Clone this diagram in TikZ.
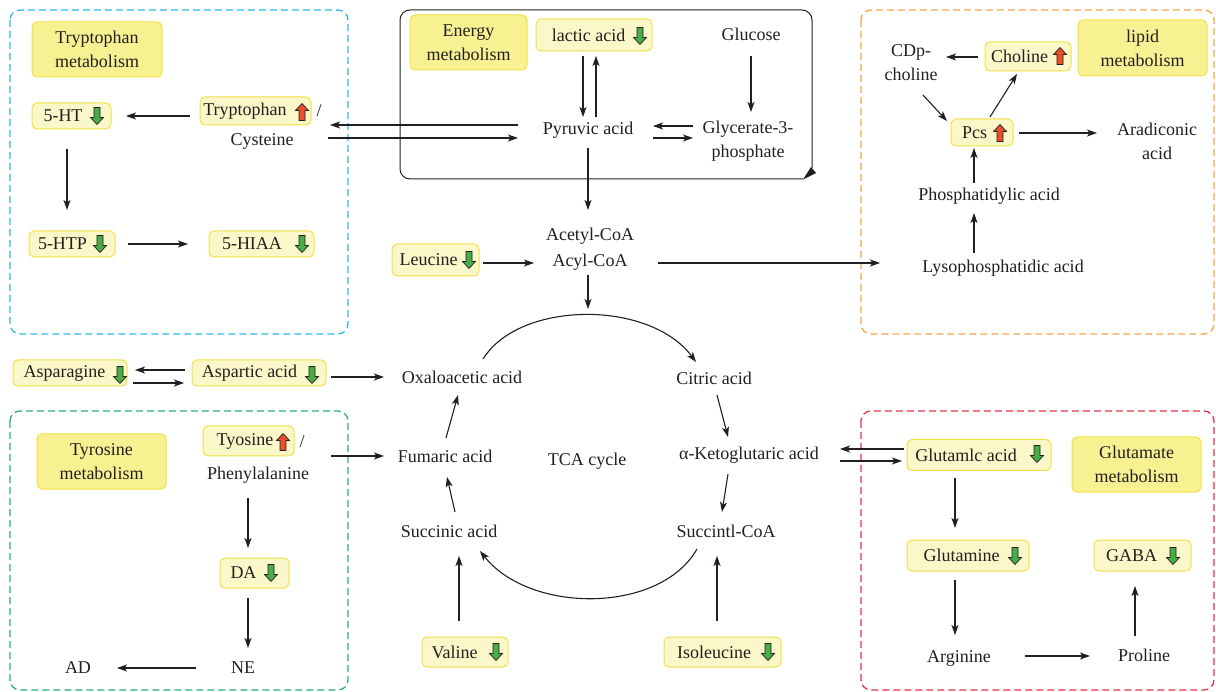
\documentclass[tikz,border=0pt]{standalone}
\usepackage{fontspec}
\setmainfont{Liberation Serif}
\usetikzlibrary{arrows.meta,calc}
\definecolor{ylab}{RGB}{247,241,145}
\definecolor{ylite}{RGB}{250,247,200}
\definecolor{ybd}{RGB}{242,224,70}
\definecolor{agreen}{RGB}{72,172,72}
\definecolor{ared}{RGB}{232,80,42}
\definecolor{ccyan}{RGB}{45,185,230}
\definecolor{corange}{RGB}{245,165,70}
\definecolor{cgreen}{RGB}{40,175,120}
\definecolor{cred}{RGB}{230,50,70}
\definecolor{ink}{RGB}{35,31,32}
\tikzset{
  lbl/.style={draw=ybd,fill=ylab,rounded corners=5pt,line width=1pt,align=center,inner sep=0pt,text=ink},
  mbox/.style={draw=ybd,fill=ylite,rounded corners=5pt,line width=1pt,align=center,inner sep=0pt,text=ink},
  txt/.style={align=center,inner sep=0pt,text=ink},
  arr/.style={-{Stealth[length=10pt,width=7pt,inset=2.5pt]},line width=1.1pt,draw=ink},
  dbox/.style={dash pattern=on 7pt off 4pt,line width=1.3pt,rounded corners=10pt},
  dnicon/.pic={\draw[ink,fill=agreen,line width=0.7pt,line join=miter] (0,8.5) -- (6.5,1.5) -- (3,1.5) -- (3,-8.5) -- (-3,-8.5) -- (-3,1.5) -- (-6.5,1.5) -- cycle;},
  upicon/.pic={\draw[ink,fill=ared,line width=0.7pt,line join=miter] (0,-8.5) -- (6.5,-1.5) -- (3,-1.5) -- (3,8.5) -- (-3,8.5) -- (-3,-1.5) -- (-6.5,-1.5) -- cycle;},
}
\begin{document}
\begin{tikzpicture}[x=1pt,y=-1pt,font=\fontsize{18}{24}\selectfont]
\useasboundingbox (0,0) rectangle (1216,692);
% dashed group boxes
\draw[dbox,ccyan] (10,10) rectangle (348,334);
\draw[dbox,corange] (861,10) rectangle (1214,334);
\draw[dbox,cgreen] (10,411) rectangle (348,690);
\draw[dbox,cred] (861,411) rectangle (1214,690);
% energy box
\draw[line width=1pt,ink,rounded corners=10pt] (812,168) -- (812,10) -- (400,10) -- (400,179) -- (803,179);
\fill[ink] (803,179.5) -- (811,167) -- (816,173) -- cycle;

% labels
\node[lbl,minimum width=130pt,minimum height=55pt] (trylab) at (97,49.5) {Tryptophan\\metabolism};
\node[lbl,minimum width=117pt,minimum height=55pt] (enlab) at (468.5,42.5) {Energy\\metabolism};
\node[lbl,minimum width=129pt,minimum height=56pt] (liplab) at (1142.5,48) {lipid\\metabolism};
\node[lbl,minimum width=129pt,minimum height=55pt] (tyrlab) at (101.5,461.5) {Tyrosine\\metabolism};
\node[lbl,minimum width=129pt,minimum height=55pt] (glulab) at (1136.5,464.5) {Glutamate\\metabolism};

% marked boxes
\node[mbox,minimum width=79pt,minimum height=26pt] (ht) at (71.5,116) {5-HT\hspace*{17pt}};
\node[mbox,minimum width=111pt,minimum height=28pt] (trp) at (255.5,111) {Tryptophan\hspace*{21pt}};
\node[mbox,minimum width=86pt,minimum height=26pt] (htp) at (72,244) {5-HTP\hspace*{19pt}};
\node[mbox,minimum width=105pt,minimum height=26pt] (hiaa) at (261.5,244) {5-HIAA\hspace*{19pt}};
\node[mbox,minimum width=116pt,minimum height=32pt] (lac) at (594,35) {lactic acid\hspace*{11pt}};
\node[mbox,minimum width=86pt,minimum height=29pt] (chol) at (1028,56.5) {Choline\hspace*{17pt}};
\node[mbox,minimum width=62pt,minimum height=27pt] (pcs) at (982,132.5) {Pcs\hspace*{15pt}};
\node[mbox,minimum width=87pt,minimum height=32pt] (leu) at (435.5,260) {Leucine\hspace*{14pt}};
\node[mbox,minimum width=114pt,minimum height=26pt] (asn) at (70,373) {Asparagine\hspace*{11pt}};
\node[mbox,minimum width=134pt,minimum height=26pt] (asp) at (259,373) {Aspartic acid\hspace*{19pt}};
\node[mbox,minimum width=91pt,minimum height=30pt] (tyo) at (248.5,441) {Tyosine\hspace*{7pt}};
\node[mbox,minimum width=69pt,minimum height=30pt] (da) at (254.5,573) {DA\hspace*{22pt}};
\node[mbox,minimum width=144pt,minimum height=31pt] (glu) at (979,455) {Glutamlc acid\hspace*{26pt}};
\node[mbox,minimum width=122pt,minimum height=31pt] (gln) at (968,555.5) {Glutamine\hspace*{13pt}};
\node[mbox,minimum width=97pt,minimum height=31pt] (gaba) at (1142.5,555.5) {GABA\hspace*{22pt}};
\node[mbox,minimum width=86pt,minimum height=30pt] (val) at (465,652) {Valine\hspace*{21pt}};
\node[mbox,minimum width=117pt,minimum height=30pt] (ile) at (722.5,652) {Isoleucine\hspace*{17pt}};

% up / down markers
\pic (i1) at (97,116) {dnicon};
\pic (i2) at (302,112) {upicon};
\pic (i3) at (100,244) {dnicon};
\pic (i4) at (302,244) {dnicon};
\pic (i5) at (640,36) {dnicon};
\pic (i6) at (1060,56) {upicon};
\pic (i7) at (1000,133) {upicon};
\pic (i8) at (469,260) {dnicon};
\pic (i9) at (120,375) {dnicon};
\pic (i10) at (312,375) {dnicon};
\pic (i11) at (283,442) {upicon};
\pic (i12) at (271,573) {dnicon};
\pic (i13) at (1037,454) {dnicon};
\pic (i14) at (1015,556) {dnicon};
\pic (i15) at (1173,556) {dnicon};
\pic (i16) at (496,652) {dnicon};
\pic (i17) at (768,652) {dnicon};

% plain texts
\node[txt] (sl1) at (319,111) {/};
\node[txt] (cys) at (262,141) {Cysteine};
\node[txt] (glc) at (751,34) {Glucose};
\node[txt] (pyr) at (588,130) {Pyruvic acid};
\node[txt] (g3p) at (748,141) {Glycerate-3-\\phosphate};
\node[txt] (acet) at (590,236) {Acetyl-CoA};
\node[txt] (acyl) at (590,262) {Acyl-CoA};
\node[txt] (cdp) at (911,63) {CDp-\\choline};
\node[txt] (arad) at (1157,141) {Aradiconic\\acid};
\node[txt] (pa) at (989,196) {Phosphatidylic acid};
\node[txt] (lpa) at (1003,268) {Lysophosphatidic acid};
\node[txt] (oaa) at (462,377) {Oxaloacetic acid};
\node[txt] (cit) at (714,378) {Citric acid};
\node[txt] (akg) at (749,455) {α-Ketoglutaric acid};
\node[txt] (sca) at (726,531) {Succintl-CoA};
\node[txt] (suc) at (449,531) {Succinic acid};
\node[txt] (fum) at (445,456) {Fumaric acid};
\node[txt] (tca) at (587,461) {TCA cycle};
\node[txt] (sl2) at (302,442) {/};
\node[txt] (phe) at (258,475) {Phenylalanine};
\node[txt] (ne) at (243,668) {NE};
\node[txt] (ad) at (78,668) {AD};
\node[txt] (arg) at (959,658) {Arginine};
\node[txt] (pro) at (1144,655) {Proline};
\coordinate (arctop) at (588,309);

% connectors
\draw[arr] ($(trp)+(-65.5,5)$) -- ($(ht)+(54.5,0)$);
\draw[arr] ($(ht)+(-4.5,33)$) -- ($(htp)+(-5,-34)$);
\draw[arr] ($(htp)+(56,0)$) -- ($(hiaa)+(-73.5,0)$);
\draw[arr] ($(pyr)+(-70,-5)$) -- ($(cys)+(68,-16)$);
\draw[arr] ($(cys)+(66,-3)$) -- ($(pyr)+(-70,8)$);
\draw[arr] ($(lac)+(-11,21)$) -- ($(pyr)+(-5,-13)$);
\draw[arr] ($(pyr)+(8,-13)$) -- ($(lac)+(2,21)$);
\draw[arr] ($(glc)+(0,22)$) -- ($(g3p)+(3,-29)$);
\draw[arr] ($(g3p)+(-55,-15)$) -- ($(pyr)+(65,-4)$);
\draw[arr] ($(pyr)+(65,8)$) -- ($(g3p)+(-55,-3)$);
\draw[arr] ($(pyr)+(0,18)$) -- ($(acet)+(-2,-26)$);
\draw[arr] ($(leu)+(47.5,3)$) -- ($(acyl)+(-56,1)$);
\draw[arr] ($(acyl)+(68,1)$) -- ($(lpa)+(-123,-5)$);
\draw[arr] ($(acyl)+(-2,13)$) -- (arctop);
\draw[arr] ($(chol)+(-50,0.5)$) -- ($(cdp)+(35,-6)$);
\draw[arr] ($(cdp)+(12,32)$) -- ($(pcs)+(-35,-11.5)$);
\draw[arr] ($(pcs)+(8,-15.5)$) -- ($(chol)+(-11,17.5)$);
\draw[arr] ($(pcs)+(37,0.5)$) -- ($(arad)+(-60,-8)$);
\draw[arr] ($(pa)+(-15,-13)$) -- ($(pcs)+(-8,15.5)$);
\draw[arr] ($(lpa)+(-29,-15)$) -- ($(pa)+(-15,17)$);
% TCA cycle
\draw[arr] ($(oaa)+(21,-18)$) .. controls (520,300) and (650,300) .. ($(cit)+(-18,-16)$);
\draw[arr] ($(cit)+(3,17)$) -- ($(akg)+(-21,-18)$);
\draw[arr] ($(akg)+(-21,19)$) -- ($(sca)+(-4,-19)$);
\draw[arr] ($(sca)+(-29,18)$) .. controls (660,614) and (530,614) .. ($(suc)+(31,20)$);
\draw[arr] ($(suc)+(6,-19)$) -- ($(fum)+(2,21)$);
\draw[arr] ($(fum)+(1,-18)$) -- ($(oaa)+(-4,18)$);
% amino acids
\draw[arr] ($(asp)+(-74,-3)$) -- ($(asn)+(65,-3)$);
\draw[arr] ($(asn)+(63,10)$) -- ($(asp)+(-75,10)$);
\draw[arr] ($(asp)+(72,4)$) -- ($(oaa)+(-78,0)$);
\draw[arr] ($(tyo)+(82.5,15)$) -- ($(fum)+(-61,0)$);
\draw[arr] ($(phe)+(-10,23)$) -- ($(da)+(-6.5,-25)$);
\draw[arr] ($(da)+(-6.5,25)$) -- ($(ne)+(5,-20)$);
\draw[arr] ($(ne)+(-47,0)$) -- ($(ad)+(39,0)$);
\draw[arr] ($(glu)+(-75,-6)$) -- ($(akg)+(91,-6)$);
\draw[arr] ($(akg)+(91,6)$) -- ($(glu)+(-77,6)$);
\draw[arr] ($(glu)+(-24,23)$) -- ($(gln)+(-13,-27.5)$);
\draw[arr] ($(gln)+(-13,24.5)$) -- ($(arg)+(-4,-23)$);
\draw[arr] ($(arg)+(66,-2)$) -- ($(pro)+(-54,1)$);
\draw[arr] ($(pro)+(-9,-19)$) -- ($(gaba)+(-7.5,30.5)$);
\draw[arr] ($(val)+(-6,-31)$) -- ($(suc)+(10,25)$);
\draw[arr] ($(ile)+(-5.5,-31)$) -- ($(sca)+(-9,25)$);
\end{tikzpicture}
\end{document}
